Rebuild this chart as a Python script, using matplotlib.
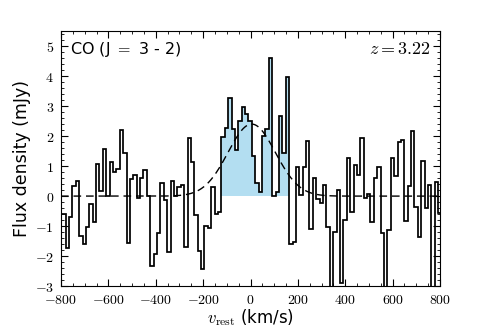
import numpy as np
import matplotlib
matplotlib.use('agg')
import matplotlib.pyplot as plt
from matplotlib.ticker import MultipleLocator, FuncFormatter

plt.rcParams['mathtext.fontset'] = 'cm'
plt.rcParams['font.family'] = ['DejaVu Sans']

# channel grid (km/s)
v_start = -795.0
dv = 14.3

# flux density per channel (mJy)
flux = [
    -0.58, -1.74, -0.69, 0.33, 0.50, -1.32, -1.60, -1.04, -0.26, -0.87,
    1.06, 0.18, 1.56, 0.00, 1.12, 0.79, 0.89, 2.21, 1.44, -1.56,
    0.58, 0.71, -0.07, 0.60, 0.87, 0.00, -2.32, -1.94, -1.24, 0.44,
    -0.13, -1.85, 0.52, 0.00, 0.30, 0.36, -1.68, 1.95, 1.15, -0.62,
    -1.83, -2.44, -1.00, -1.05, 0.32, -0.60, -0.52, 1.97, 2.26, 3.26,
    2.24, 1.53, 2.49, 2.97, 2.74, 2.49, 1.35, 0.45, 0.15, 2.00,
    2.25, 4.59, 0.00, 0.15, 2.67, 1.45, 3.98, -1.58, -1.52, 0.98,
    0.03, 0.98, 1.84, -1.08, 0.59, -0.08, -0.24, 0.37, -1.02, -3.30,
    -1.19, 0.20, -2.90, -0.80, 1.27, -0.52, 1.02, 0.70, 1.92, -0.05,
    0.07, -0.87, 0.59, 0.98, -1.22, -3.30, -1.13, 1.28, 0.67, 1.81,
    1.87, -0.84, 0.33, 2.17, -0.35, -1.36, 1.18, -0.38, 0.37, -3.30,
    0.48, -0.55,
]

# channels of the line region (shaded)
line_first, line_last = 47, 66

# gaussian fit to the line
g_amp = 2.4
g_center = 5.0
g_sigma = 100.0

flux = np.array(flux)
edges = v_start + dv * np.arange(len(flux) + 1)

fig, ax = plt.subplots(figsize=(4.9, 3.27), dpi=100)
fig.subplots_adjust(left=0.1245, right=0.898, top=0.905, bottom=0.125)

ax.stairs(flux[line_first:line_last + 1], edges[line_first:line_last + 2],
          fill=True, baseline=0, color='#b3def1', lw=0, zorder=1)

v = np.linspace(-800, 800, 800)
model = g_amp * np.exp(-0.5 * ((v - g_center) / g_sigma) ** 2)
ax.plot(v, model, color='black', lw=1.0, dashes=(5.5, 3.5), zorder=2)

ax.stairs(flux, edges, baseline=None, color='black', lw=1.25, zorder=3)

ax.set_xlim(-800, 800)
ax.set_ylim(-3, 5.5)

ax.xaxis.set_major_locator(MultipleLocator(200))
ax.xaxis.set_minor_locator(MultipleLocator(50))
ax.yaxis.set_major_locator(MultipleLocator(1))
ax.yaxis.set_minor_locator(MultipleLocator(0.2))
fmt = FuncFormatter(lambda x, p: r'$%d$' % round(x))
ax.xaxis.set_major_formatter(fmt)
ax.yaxis.set_major_formatter(fmt)
ax.tick_params(which='both', direction='in', top=True, right=True, labelsize=10)
ax.tick_params(axis='x', pad=5)
ax.tick_params(axis='y', pad=5)
ax.tick_params(which='major', length=5, width=0.8)
ax.tick_params(which='minor', length=2.5, width=0.6)

ax.set_xlabel(r'$v_{\rm rest}$ (km/s)', fontsize=12, labelpad=0)
ax.set_ylabel('Flux density (mJy)', fontsize=12.5, labelpad=3)

ax.text(0.025, 0.965, r'CO (J $=$ 3 - 2)', transform=ax.transAxes,
        ha='left', va='top', fontsize=11.5)
ax.text(0.975, 0.965, r'$z = 3.22$', transform=ax.transAxes,
        ha='right', va='top', fontsize=13)

plt.savefig('out.png', dpi=100)
plt.close()
